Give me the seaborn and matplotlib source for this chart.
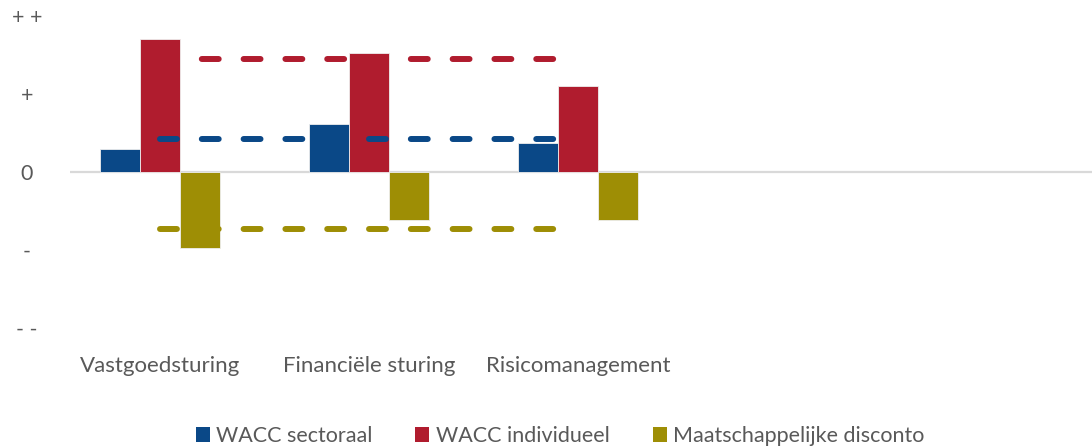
import matplotlib
matplotlib.use("Agg")
import matplotlib.pyplot as plt
from matplotlib.patches import Patch
import seaborn as sns
import pandas as pd

# Categories and series
categories = ["Vastgoedsturing", "Financiële sturing", "Risicomanagement"]
series = ["WACC sectoraal", "WACC individueel", "Maatschappelijke disconto"]

# Bar values per series (qualitative scale: -2 = "- -" ... 2 = "+ +")
wacc_sectoraal = [0.30, 0.61, 0.37]
wacc_individueel = [1.71, 1.53, 1.10]
maatschappelijke_disconto = [-0.975, -0.61, -0.61]

# Dashed reference levels per series
reference_levels = [0.427, 1.445, -0.73]

# Value axis ticks
y_ticks = [2, 1, 0, -1, -2]
y_tick_labels = ["+ +", "+", "0", "-", "- -"]

colors = ["#0A4887", "#B01C2E", "#9E8E05"]
text_color = "#595959"

sns.set_theme(style="white")
plt.rcParams["font.family"] = ["Lato", "DejaVu Sans"]

df = pd.DataFrame({
    "categorie": categories * 3,
    "reeks": [s for s in series for _ in categories],
    "waarde": wacc_sectoraal + wacc_individueel + maatschappelijke_disconto,
})

fig = plt.figure(figsize=(10.92, 4.48), dpi=100)
ax = fig.add_axes([70 / 1092, 1 - 328 / 448, 1022 / 1092, 312 / 448])

ax.axhline(0, color="#d9d9d9", linewidth=1.6, zorder=1)

sns.barplot(
    data=df, x="categorie", y="waarde", hue="reeks",
    order=categories, hue_order=series, palette=colors,
    width=0.574, gap=0, saturation=1, legend=False,
    edgecolor="#eeeeee", linewidth=0.6, zorder=2, ax=ax,
)

# Dashed reference lines across the categories
positions = list(range(len(categories)))
for level, color in zip(reference_levels, colors):
    line, = ax.plot(positions, [level] * len(positions), color=color,
                    linewidth=4.3, solid_capstyle="round", zorder=3)
    line.set_dashes((2.83, 4.17))
    line.set_dash_capstyle("round")

ax.set_xlim(-90 / 209, (1092 - 160) / 209)
ax.set_ylim(-2, 2)
ax.set_yticks(y_ticks)
ax.set_yticklabels(y_tick_labels)
for lbl in ax.get_yticklabels():
    lbl.set_horizontalalignment("center")
ax.tick_params(axis="y", length=0, pad=31, labelsize=15.5, labelcolor=text_color)
ax.tick_params(axis="x", length=0, pad=20, labelsize=16, labelcolor=text_color)
ax.set_xlabel("")
ax.set_ylabel("")
for spine in ax.spines.values():
    spine.set_visible(False)

handles = [Patch(facecolor=c, edgecolor="none") for c in colors]
fig.legend(handles, series, loc="center", bbox_to_anchor=(560 / 1092, 1 - 436 / 448),
           ncol=3, frameon=False, fontsize=15.5, labelcolor=text_color,
           handlelength=0.65, handleheight=0.65, handletextpad=0.3,
           columnspacing=2.0, borderpad=0, borderaxespad=0)

fig.savefig("out.png", dpi=100)
